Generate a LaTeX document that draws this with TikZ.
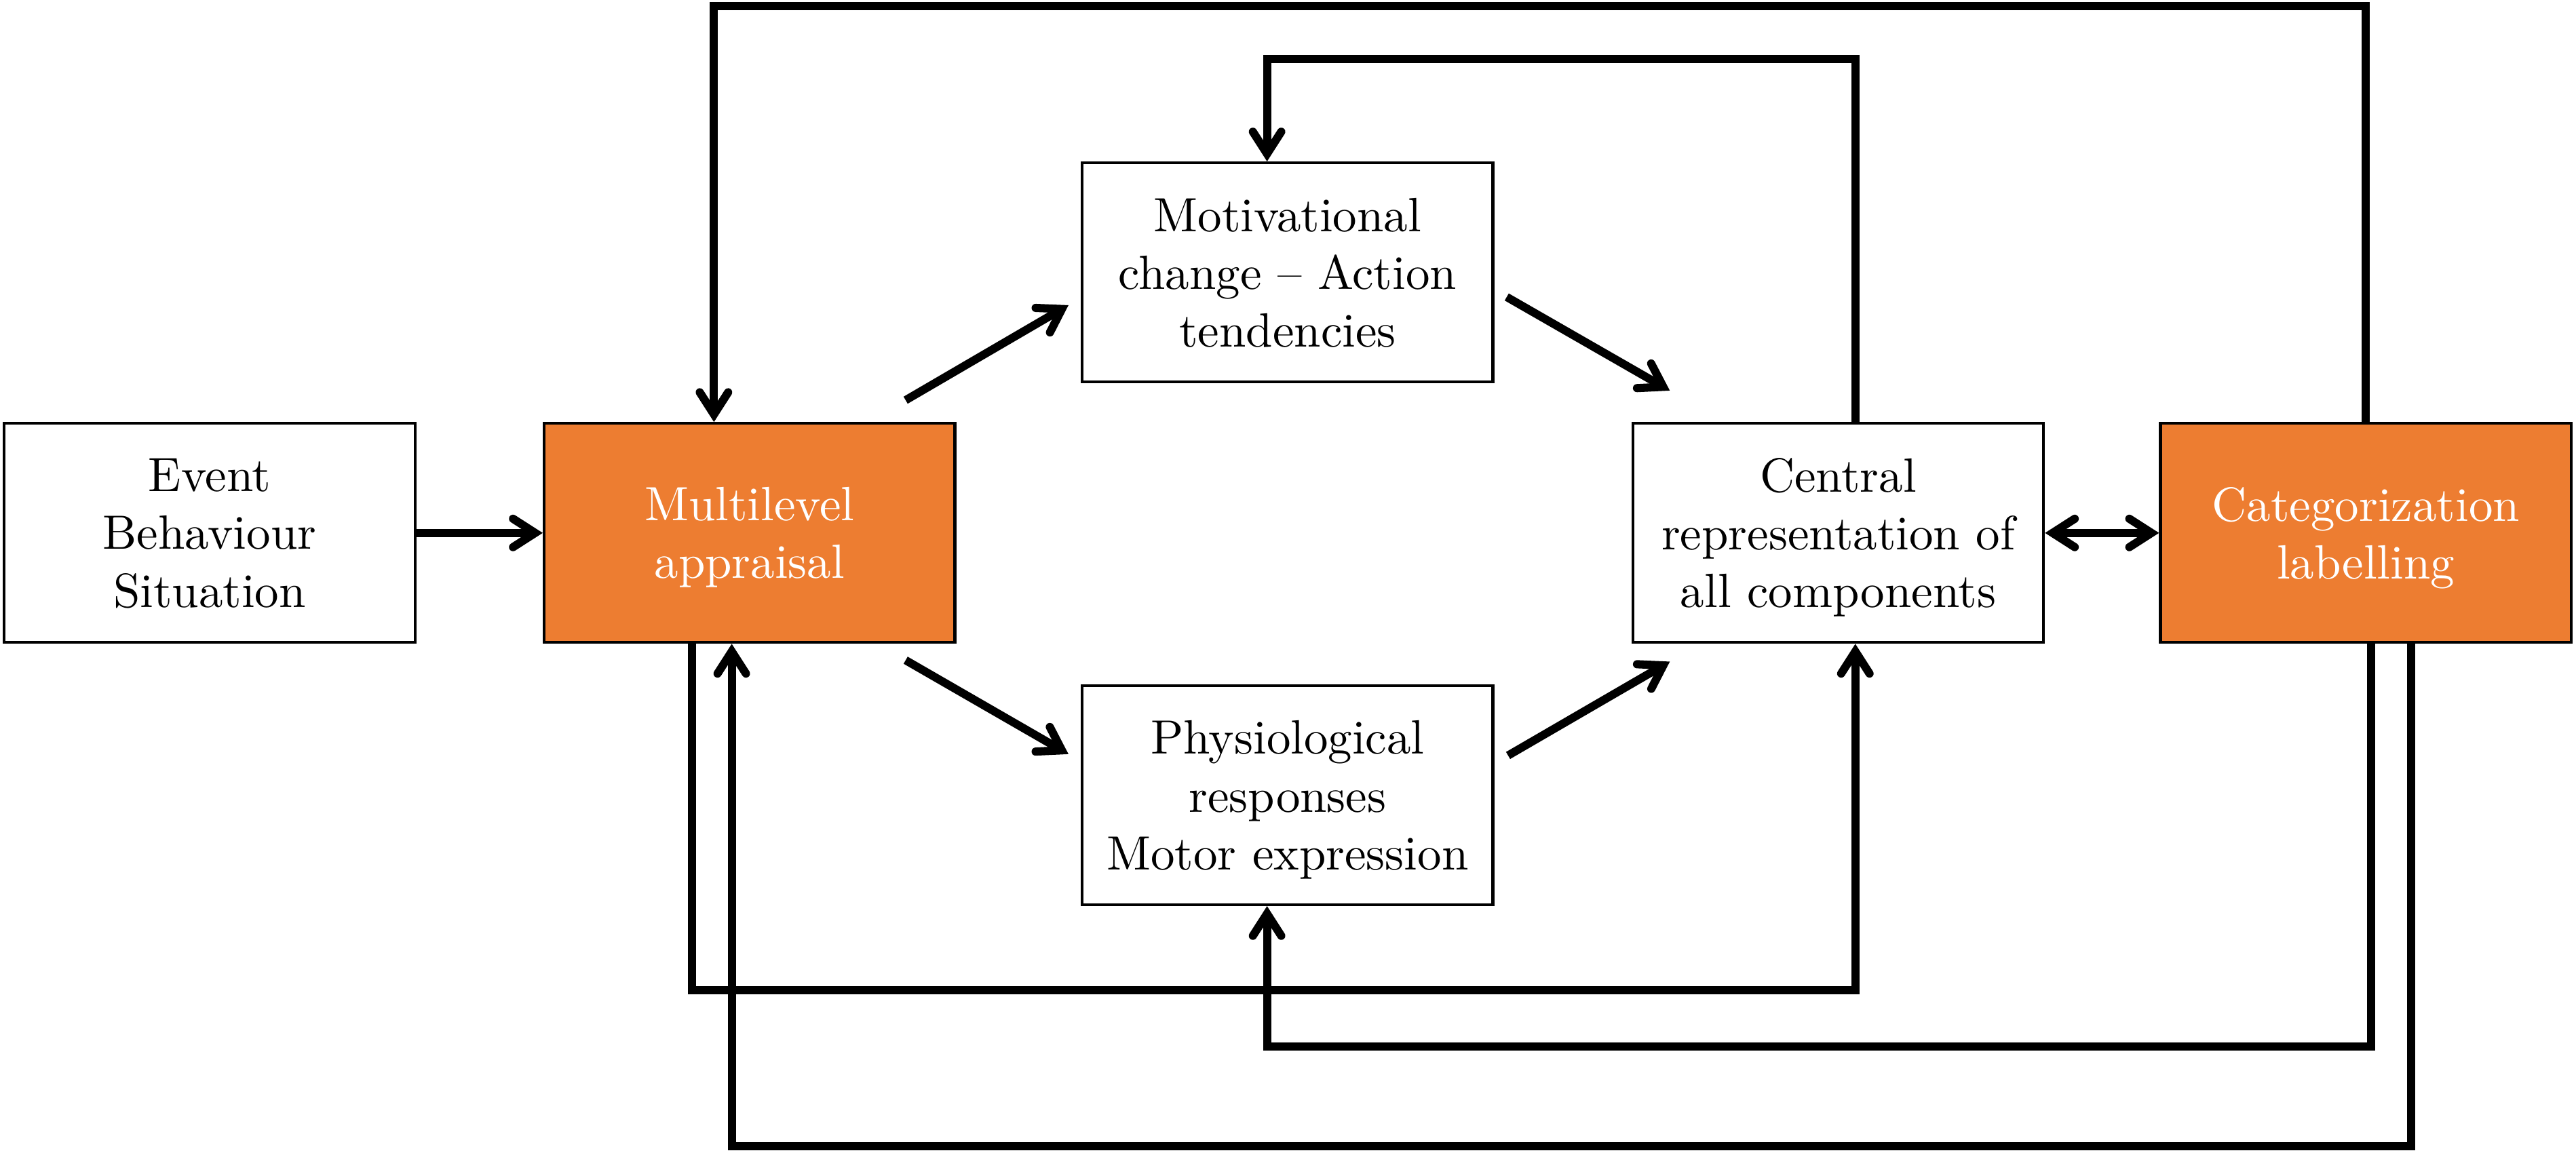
\documentclass[tikz,border=0pt]{standalone}
\usetikzlibrary{arrows.meta,calc}
\usepackage{xcolor}
\definecolor{apporange}{RGB}{237,125,49}

\begin{document}
\begin{tikzpicture}[
        barb/.tip={Straight Barb[length=4.6pt,width=5.9pt,line cap=round,line join=miter]},
        box/.style={draw=black, line width=0.6, minimum width=3cm, minimum height=1.6cm, align=center, inner sep=2pt, text depth=0pt},
        hot/.style={box, fill=apporange, text=white},
        arr/.style={line width=1.7, -barb},
        darr/.style={line width=1.7, barb-barb}
    ]
        \useasboundingbox (0, 0) rectangle (18.816, 8.424);

        \node[box] (event) at (1.531, 4.53) {Event\\Behaviour\\Situation};
        \node[hot] (appraisal) at (5.475, 4.53) {Multilevel\\appraisal};
        \node[box] (motiv) at (9.405, 6.434) {Motivational\\change -- Action\\tendencies};
        \node[box] (physio) at (9.405, 2.614) {Physiological\\responses\\Motor expression};
        \node[box] (central) at (13.427, 4.53) {Central\\representation of\\all components};
        \node[hot] (label) at (17.281, 4.53) {Categorization\\labelling};

        \coordinate (a1) at ($(appraisal)+(1.14, 0.97)$);
        \coordinate (b1) at ($(motiv.west)+(-0.09, -0.24)$);
        \coordinate (a2) at ($(appraisal)+(1.14, -0.93)$);
        \coordinate (b2) at ($(physio.west)+(-0.09, 0.30)$);
        \coordinate (a3) at ($(motiv.east)+(0.09, -0.18)$);
        \coordinate (b3) at ($(central)+(-1.23, 1.04)$);
        \coordinate (a4) at ($(physio.east)+(0.10, 0.29)$);
        \coordinate (b4) at ($(central)+(-1.23, -0.94)$);

        \draw[arr] (event) -- (appraisal);
        \draw[darr] (central) -- (label);
        \draw[arr] (a1) -- (b1);
        \draw[arr] (a2) -- (b2);
        \draw[arr] (a3) -- (b3);
        \draw[arr] (a4) -- (b4);

        \draw[arr] (label.north) -- ++(0, 3.04) -| ([xshift=-0.26cm]appraisal.north);
        \draw[arr] ([xshift=0.125cm]central.north) -- ++(0, 2.65) -| ([xshift=-0.15cm]motiv.north);
        \draw[arr] ([xshift=-0.42cm]appraisal.south) -- ++(0, -2.53) -| ([xshift=0.125cm]central.south);
        \draw[arr] ([xshift=0.04cm]label.south) -- ++(0, -2.94) -| ([xshift=-0.15cm]physio.south);
        \draw[arr] ([xshift=0.33cm]label.south) -- ++(0, -3.67) -| ([xshift=-0.13cm]appraisal.south);

        \end{tikzpicture}
\end{document}
